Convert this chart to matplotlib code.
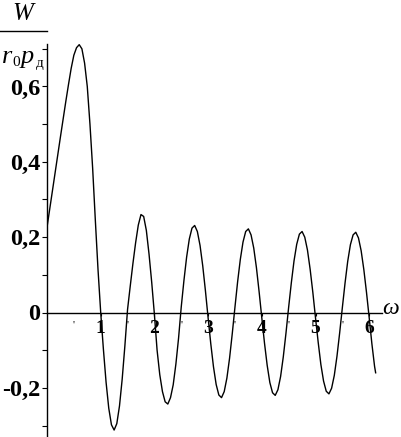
import matplotlib
matplotlib.use("Agg")
import matplotlib.pyplot as plt
from matplotlib.lines import Line2D

# значения (шаг 0.05 по omega)
omega = [round(0.05 * i, 2) for i in range(123)] + [6.12]
W = [
    # 0.00 .. 0.95
    0.226, 0.274, 0.322, 0.370, 0.418, 0.466, 0.513, 0.560, 0.605, 0.648,
    0.683, 0.703, 0.711, 0.700, 0.662, 0.600, 0.500, 0.383, 0.245, 0.114,
    # 1.00 .. 1.95
    0.000, -0.097, -0.185, -0.254, -0.298, -0.312, -0.295, -0.248, -0.177, -0.089,
    0.008, 0.070, 0.130, 0.185, 0.232, 0.260, 0.255, 0.218, 0.155, 0.080,
    # 2.00 .. 2.95
    -0.005, -0.100, -0.165, -0.210, -0.237, -0.243, -0.226, -0.192, -0.137, -0.068,
    0.015, 0.085, 0.147, 0.195, 0.224, 0.231, 0.215, 0.178, 0.124, 0.058,
    # 3.00 .. 3.95
    -0.014, -0.083, -0.144, -0.191, -0.219, -0.226, -0.210, -0.174, -0.121, -0.056,
    0.014, 0.082, 0.141, 0.187, 0.215, 0.222, 0.206, 0.171, 0.119, 0.055,
    # 4.00 .. 4.95
    -0.014, -0.081, -0.140, -0.186, -0.213, -0.220, -0.205, -0.170, -0.118, -0.055,
    0.014, 0.079, 0.137, 0.181, 0.208, 0.215, 0.200, 0.166, 0.115, 0.054,
    # 5.00 .. 5.95
    -0.014, -0.079, -0.138, -0.182, -0.209, -0.216, -0.201, -0.167, -0.116, -0.054,
    0.013, 0.078, 0.136, 0.180, 0.206, 0.213, 0.198, 0.164, 0.114, 0.053,
    # 6.00 .. 6.12
    -0.014, -0.083, -0.143, -0.160,
]

y_ticks = [-0.2, 0, 0.2, 0.4, 0.6]
y_labels = ["-0,2", "0", "0,2", "0,4", "0,6"]
y_minor = [-0.3, -0.1, 0.1, 0.3, 0.5, 0.7]
x_ticks = [1, 2, 3, 4, 5, 6]
x_labels = ["1", "2", "3", "4", "5", "6"]
x_minor = [0.5, 1.5, 2.5, 3.5, 4.5, 5.5]

FW, FH = 402, 437
X0, Y0 = 47, 312.5      # положение начала координат, px
SX, SY = 53.7, 376.7    # px на единицу
xmax, ymin, ymax = 6.23, -0.33, 0.713

fig = plt.figure(figsize=(FW / 100, FH / 100), dpi=100)
top_px = Y0 - ymax * SY
bot_px = Y0 - ymin * SY
ax = fig.add_axes([X0 / FW, 1 - bot_px / FH, xmax * SX / FW, (bot_px - top_px) / FH])

ax.plot(omega, W, color="black", lw=1.0)

ax.set_xlim(0, xmax)
ax.set_ylim(ymin, ymax)
for s in ["top", "right"]:
    ax.spines[s].set_visible(False)
ax.spines["left"].set_position(("data", 0))
ax.spines["bottom"].set_position(("data", 0))
ax.spines["left"].set_linewidth(1.0)
ax.spines["bottom"].set_linewidth(1.0)

ax.set_yticks(y_ticks)
ax.set_yticklabels(y_labels, fontfamily="Liberation Serif", fontweight="bold", fontsize=17.5)
ax.set_yticks(y_minor, minor=True)
ax.tick_params(axis="y", which="both", direction="out", length=3.5, width=0.8, pad=1.5)

ax.set_xticks(x_ticks)
ax.set_xticklabels(x_labels, fontfamily="Liberation Serif", fontweight="bold", fontsize=14)
ax.set_xticks(x_minor, minor=True)
ax.set_xticklabels(["'"] * len(x_minor), minor=True, fontfamily="Liberation Serif", fontsize=8)
ax.tick_params(axis="x", which="major", direction="out", length=2, width=0.8, pad=3.5)
ax.tick_params(axis="x", which="minor", direction="out", length=0, pad=6)


def fpos(x, y):
    return x / FW, 1 - y / FH


# подпись оси ординат: W / (r0 pд)
fig.text(*fpos(22.5, 14), "W", fontfamily="Liberation Serif", fontstyle="italic",
         fontsize=18, ha="center", va="center")
fig.add_artist(Line2D([0, 47 / FW], [1 - 31 / FH, 1 - 31 / FH], color="black", lw=1.0))
fig.text(*fpos(2, 63), "r", fontfamily="Liberation Serif", fontstyle="italic",
         fontsize=19, ha="left", va="baseline")
fig.text(*fpos(12.5, 66), "0", fontfamily="Liberation Serif", fontsize=11,
         ha="left", va="baseline")
fig.text(*fpos(21, 63), "p", fontfamily="Liberation Serif", fontstyle="italic",
         fontsize=19, ha="left", va="baseline")
fig.text(*fpos(35.5, 67), "д", fontfamily="Liberation Serif", fontsize=11,
         ha="left", va="baseline")

# подпись оси абсцисс
fig.text(*fpos(391, 309), "ω", fontfamily="Liberation Serif", fontstyle="italic",
         fontsize=17, ha="center", va="center")

fig.savefig("out.png", dpi=100)
